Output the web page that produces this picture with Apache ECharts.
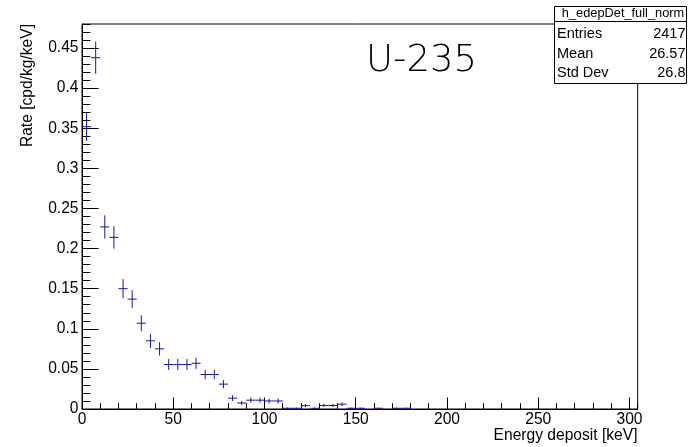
<!DOCTYPE html>
<html>
<head>
<meta charset="utf-8">
<script src="https://cdn.jsdelivr.net/npm/echarts@6/dist/echarts.min.js"></script>
<style>
html,body{margin:0;padding:0;background:#fff;}
#chart{width:688px;height:447px;}
</style>
</head>
<body>
<div id="chart"></div>
<script>
// ---- data ----
const binWidth = 5; // keV
const binCenters = [2.5, 7.5, 12.5, 17.5, 22.5, 27.5, 32.5, 37.5, 42.5, 47.5,
  52.5, 57.5, 62.5, 67.5, 72.5, 77.5, 82.5, 87.5, 92.5, 97.5,
  102.5, 107.5, 112.5, 117.5, 122.5, 127.5, 132.5, 137.5, 142.5, 147.5,
  152.5, 162.5, 172.5, 177.5];
const rates = [0.352, 0.438, 0.227, 0.214, 0.150, 0.137, 0.107, 0.085, 0.075, 0.0555,
  0.0555, 0.0555, 0.057, 0.043, 0.043, 0.031, 0.0135, 0.0075, 0.011, 0.011,
  0.010, 0.010, 0.0009, 0.0009, 0.0042, 0.0009, 0.0044, 0.0044, 0.006, 0.0009,
  0.0009, 0.0009, 0.0009, 0.0009];
const errors = [0.0177, 0.020, 0.0145, 0.014, 0.012, 0.011, 0.0100, 0.0088, 0.0082, 0.0068,
  0.0068, 0.0068, 0.0070, 0.0060, 0.0060, 0.0050, 0.0036, 0.0026, 0.0031, 0.0031,
  0.0030, 0.0030, 0.0009, 0.0009, 0.0019, 0.0009, 0.0020, 0.0020, 0.0023, 0.0009,
  0.0009, 0.0009, 0.0009, 0.0009];
const xTitle = 'Energy deposit [keV]';
const yTitle = 'Rate [cpd/kg/keV]';
const histName = 'h_edepDet_full_norm';
const statNames = ['Entries', 'Mean', 'Std Dev'];
const statValues = ['2417', '26.57', '26.8'];
const label = 'U-235';

const FONT = '"Liberation Sans", Arial, Helvetica, sans-serif';
const FS = 15.6;
const lineColor = '#1515b0';

const seriesData = binCenters.map((c, i) => [c, rates[i], errors[i]]);

const chart = echarts.init(document.getElementById('chart'), null, {renderer: 'canvas'});

const graphics = [
  // y axis title
  {type: 'text', x: 28, y: 24, rotation: Math.PI / 2,
   style: {text: yTitle, align: 'right', verticalAlign: 'middle', fontSize: FS, fontFamily: FONT, fill: '#000'}},
  // x axis title
  {type: 'text', x: 637.5, y: 435.5,
   style: {text: xTitle, align: 'right', verticalAlign: 'middle', fontSize: FS, fontFamily: FONT, fill: '#000'}},
  // big label
  {type: 'text', x: 421.5, y: 61.5,
   style: {text: label, align: 'center', verticalAlign: 'middle', fontSize: 37, fontWeight: 200, fontFamily: '"DejaVu Sans", sans-serif', fill: '#000'}},
  // stats box
  {type: 'rect', shape: {x: 554.5, y: 6.5, width: 132, height: 77}, z: 100,
   style: {fill: '#fff', stroke: '#000', lineWidth: 1}},
  {type: 'line', shape: {x1: 554.5, y1: 21.5, x2: 686.5, y2: 21.5}, z: 101,
   style: {stroke: '#000', lineWidth: 1}},
  {type: 'text', x: 623, y: 13, z: 102,
   style: {text: histName, align: 'center', verticalAlign: 'middle', fontSize: 12.8, fontFamily: FONT, fill: '#000'}}
];
const rowY = [34, 53.5, 73];
statNames.forEach((n, i) => {
  graphics.push({type: 'text', x: 557, y: rowY[i], z: 101,
    style: {text: n, align: 'left', verticalAlign: 'middle', fontSize: 14.5, fontFamily: FONT, fill: '#000'}});
  graphics.push({type: 'text', x: 685.5, y: rowY[i], z: 101,
    style: {text: statValues[i], align: 'right', verticalAlign: 'middle', fontSize: 14.5, fontFamily: FONT, fill: '#000'}});
});

const axisLineStyle = {show: true, lineStyle: {color: '#000', width: 1}};

chart.setOption({
  animation: false,
  backgroundColor: '#fff',
  grid: {left: 82, right: 50.3, top: 24, bottom: 38, show: true, borderColor: '#000', borderWidth: 1, containLabel: false},
  xAxis: [
    {type: 'value', position: 'bottom', min: 0, max: 304.5, interval: 50,
     axisLine: axisLineStyle,
     axisTick: {show: true, inside: true, length: 11.5, lineStyle: {color: '#000'}},
     axisLabel: {show: true, margin: 3, fontSize: FS, fontFamily: FONT, color: '#000', showMaxLabel: false},
     splitLine: {show: false}},
    {type: 'value', position: 'bottom', min: 0, max: 304.5, interval: 10,
     axisLine: {show: false},
     axisTick: {show: true, inside: true, length: 5.8, lineStyle: {color: '#000'}},
     axisLabel: {show: false},
     splitLine: {show: false}}
  ],
  yAxis: [
    {type: 'value', position: 'left', min: 0, max: 0.48, interval: 0.05,
     axisLine: axisLineStyle,
     axisTick: {show: true, inside: true, length: 16.7, lineStyle: {color: '#000'}},
     axisLabel: {show: true, margin: 3.5, fontSize: FS, fontFamily: FONT, color: '#000', showMaxLabel: false},
     splitLine: {show: false}},
    {type: 'value', position: 'left', min: 0, max: 0.48, interval: 0.01,
     axisLine: {show: false},
     axisTick: {show: true, inside: true, length: 8.4, lineStyle: {color: '#000'}},
     axisLabel: {show: false},
     splitLine: {show: false}}
  ],
  graphic: graphics,
  series: [{
    type: 'custom',
    xAxisIndex: 0,
    yAxisIndex: 0,
    data: seriesData,
    clip: true,
    renderItem: function (params, api) {
      const c = api.value(0), v = api.value(1), e = api.value(2);
      const pL = api.coord([c - binWidth / 2, v]);
      const pR = api.coord([c + binWidth / 2, v]);
      const pT = api.coord([c, v + e]);
      const pB = api.coord([c, Math.max(0, v - e)]);
      const st = {stroke: lineColor, lineWidth: 1};
      return {
        type: 'group',
        children: [
          {type: 'line', shape: {x1: pL[0], y1: pL[1], x2: pR[0], y2: pR[1]}, style: st},
          {type: 'line', shape: {x1: pT[0], y1: pT[1], x2: pB[0], y2: pB[1]}, style: st}
        ]
      };
    }
  }]
});
</script>
</body>
</html>
